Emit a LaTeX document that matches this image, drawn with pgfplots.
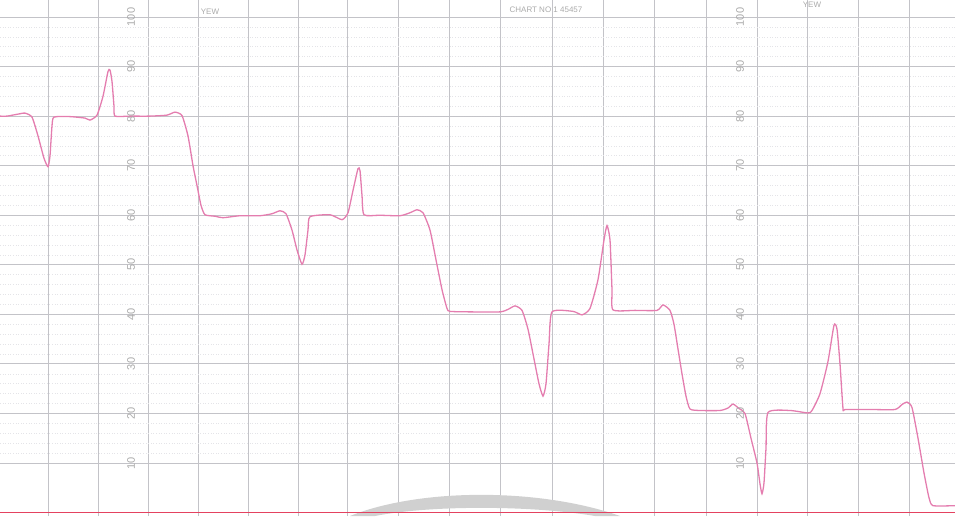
\documentclass[border=0pt]{standalone}
\usepackage{pgfplots}
\pgfplotsset{compat=1.18}
\usepackage{fontspec}
\setmainfont{Liberation Sans}
\definecolor{trace}{RGB}{228,125,175}
\definecolor{redline}{RGB}{228,66,96}
\definecolor{gridmaj}{RGB}{195,195,200}
\definecolor{gridmin}{RGB}{228,228,232}
\definecolor{labgray}{RGB}{170,170,170}
\definecolor{arcgray}{RGB}{208,208,208}
\pgfplotstableread{
x y
0 80.0
7 80.0
18 80.4
25 80.6
32 79.8
38 76
44 71.5
48 69.8
50 72
52 78
54 79.8
70 79.9
85 79.6
90 79.2
97 80.2
103 84
108 89
110 89.3
112 87
114 82
115 80
130 80
150 80
167 80.2
175 80.8
182 80.1
188 76
193 70
197 66
201 62
205 60.1
215 59.8
223 59.5
240 59.9
260 59.9
272 60.3
280 60.9
286 60.3
292 57
297 53
302 50.1
305 52
308 57
310 59.7
330 60.1
342 59.1
348 60.5
353 65
358 69.4
360 69
362 64
364 60.1
380 60
400 59.9
410 60.5
417 61.1
423 60.5
430 57
436 51
442 45
447 41.2
450 40.6
470 40.5
500 40.5
508 41
515 41.7
522 40.8
528 37
534 31
539 26
543 23.5
546 26
549 34
552 40.5
573 40.6
582 39.9
590 41.2
598 47
604 55
607 57.9
610 55
612 45
613 40.9
635 40.8
657 40.8
663 41.9
670 40.8
674 38
678 33
682 28
686 23.5
690 20.9
700 20.6
720 20.6
728 21.1
733 21.9
739 21.0
745 20.0
751 15
757 10
760 5.8
762 3.8
764 6
766 13
768 20.2
790 20.6
808 20.1
812 20.6
820 24
828 30.5
834 37.8
837 37
840 30
843 21
845 20.8
870 20.8
895 20.8
902 21.8
907 22.3
912 21.2
918 15
924 8
929 3
933 1.4
955 1.4
}\tracedata
\begin{document}
\begin{tikzpicture}
\begin{axis}[
  scale only axis,
  width=477.5pt, height=258pt,
  xmin=0, xmax=955, ymin=-0.69, ymax=103.43,
  axis line style={draw=none},
  tick style={draw=none},
  xticklabels={}, yticklabels={},
  xtick={48,98,148,198,248,298,347,398,449,500,552,603,654,706,757,807,858,909},
  ytick={10,20,30,40,50,60,70,80,90,100},
  minor x tick num=4, minor y tick num=4,
  grid=both,
  major grid style={gridmaj, line width=0.45pt},
  minor grid style={gridmin, line width=0.3pt, densely dotted},
  clip=true,
]
% scanner shadow arc
\fill[arcgray] (axis cs:350,-0.69) .. controls (axis cs:420,5.0) and (axis cs:540,5.0) .. (axis cs:620,-0.69)
  -- (axis cs:595,-0.69) .. controls (axis cs:530,1.5) and (axis cs:430,1.5) .. (axis cs:375,-0.69) -- cycle;
% bottom red line
\addplot[redline, line width=0.8pt] coordinates {(0,0) (955,0)};
% trace
\addplot[trace, line width=0.65pt, smooth, tension=0.35] table[x=x,y=y] {\tracedata};
% scale labels
\tikzset{lab/.style={labgray, font=\fontsize{5.5}{6.5}\selectfont, rotate=90, anchor=center}}
\node[lab] at (axis cs:131,100) {100};
\node[lab] at (axis cs:131,90) {90};
\node[lab] at (axis cs:131,80) {80};
\node[lab] at (axis cs:131,70) {70};
\node[lab] at (axis cs:131,60) {60};
\node[lab] at (axis cs:131,50) {50};
\node[lab] at (axis cs:131,40) {40};
\node[lab] at (axis cs:131,30) {30};
\node[lab] at (axis cs:131,20) {20};
\node[lab] at (axis cs:131,10) {10};
\node[lab] at (axis cs:740,100) {100};
\node[lab] at (axis cs:740,90) {90};
\node[lab] at (axis cs:740,80) {80};
\node[lab] at (axis cs:740,70) {70};
\node[lab] at (axis cs:740,60) {60};
\node[lab] at (axis cs:740,50) {50};
\node[lab] at (axis cs:740,40) {40};
\node[lab] at (axis cs:740,30) {30};
\node[lab] at (axis cs:740,20) {20};
\node[lab] at (axis cs:740,10) {10};
% header texts
\node[labgray, font=\fontsize{4}{5}\selectfont] at (axis cs:210,101) {YEW};
\node[labgray, font=\fontsize{4}{5}\selectfont] at (axis cs:546,101.4) {CHART NO 1 45457};
\node[labgray, font=\fontsize{4}{5}\selectfont] at (axis cs:812,102.4) {YEW};
\end{axis}
\pgfresetboundingbox
\useasboundingbox (current axis.south west) rectangle (current axis.north east);
\end{tikzpicture}
\end{document}
